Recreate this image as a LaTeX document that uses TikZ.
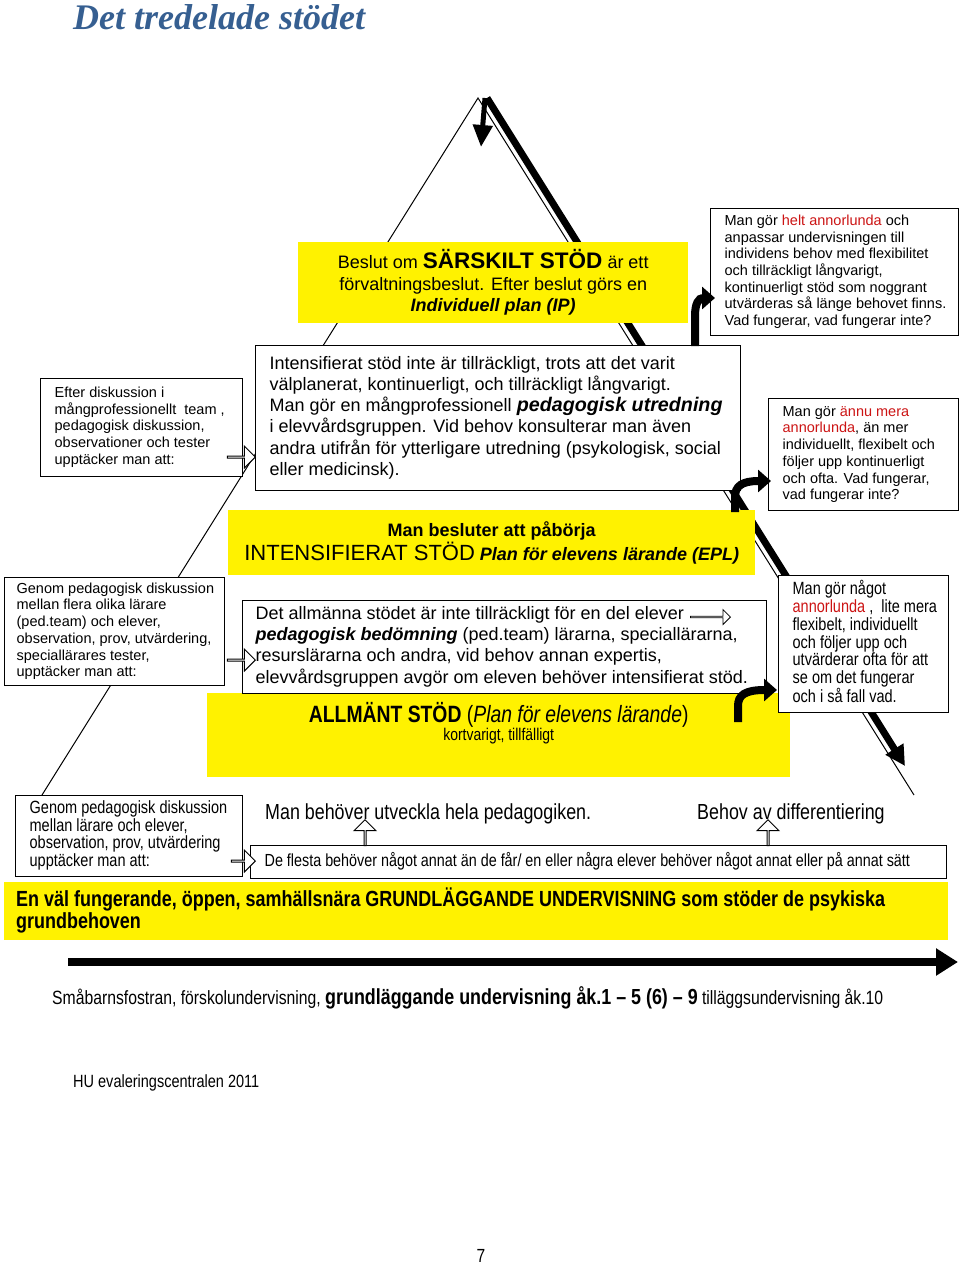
\documentclass[tikz,border=0pt]{standalone}
\usepackage{fontspec}
\setmainfont{Liberation Sans}
\newfontfamily\titlefont{Liberation Serif}
\newfontfamily\narrowfont[FakeStretch=0.82]{Liberation Sans}
\usetikzlibrary{positioning,shapes.arrows,arrows.meta}
\definecolor{titleblue}{RGB}{54,95,145}
\definecolor{annred}{RGB}{204,20,20}
\newcommand\rows[1]{{\spaceskip=0pt\xspaceskip=0pt\begin{tabular}{@{}l@{}}#1\end{tabular}}}

\begin{document}
\begin{tikzpicture}
  [x=1pt, y=-1pt,
   box/.style={draw, fill=white, line width=1.3pt, anchor=north west, align=left, inner xsep=14pt, inner ysep=0pt},
   ybox/.style={fill=yellow, anchor=north west, inner sep=0pt, align=center},
   note/.style={font=\fontsize{14.5}{16.7}\selectfont},
   big/.style={font=\fontsize{18}{21.2}\selectfont},
   slim/.style={font=\narrowfont\fontsize{17.7}{16.6}\selectfont},
   hollow/.style={single arrow, draw, fill=white, line width=1pt, inner sep=0pt, single arrow head extend=5pt, minimum width=22pt, minimum height=28pt},
   bent/.style={line width=8pt, -{Triangle[length=13pt,width=22pt]}}]

  \useasboundingbox (0,0) rectangle (960,1267);

  \node[anchor=base west, inner sep=0pt, text=titleblue, font=\titlefont\bfseries\itshape\fontsize{36}{36}\selectfont] (title) at (73,29) {Det tredelade stödet};

  \coordinate (apex) at (478,98);
  \coordinate (baseL) at (42,795);
  \coordinate (baseR) at (914,795);
  \coordinate (thicktop) at (487,98);
  \coordinate (thickend) at (905,766);
  \coordinate (downtop) at (485,98);
  \coordinate (downtip) at (481,147);

  \draw[line width=1pt] (baseL) -- (apex) -- (baseR);
  \draw[line width=7pt, -{Triangle[length=20pt,width=20pt]}] (thicktop) -- (thickend);
  \draw[line width=5pt, -{Triangle[length=22pt,width=19pt]}] (downtop) -- (downtip);

  \node[ybox, minimum width=390pt, minimum height=81pt, font=\fontsize{18}{21.5}\selectfont] (sarskilt) at (298,242)
    {Beslut om {\fontsize{22.5}{21.5}\selectfont\bfseries SÄRSKILT STÖD} är ett\\
     förvaltningsbeslut. Efter beslut görs en\\
     \textbf{\textit{Individuell plan (IP)}}};

  \node[box, note, text width=220pt, minimum height=127pt] (helt) at (710,208)
    {\rows{Man gör \textcolor{annred}{helt annorlunda} och\\
     anpassar undervisningen till\\
     individens behov med flexibilitet\\
     och tillräckligt långvarigt,\\
     kontinuerligt stöd som noggrant\\
     utvärderas så länge behovet finns.\\
     Vad fungerar, vad fungerar inte?}};

  \node[box, note, text width=174pt, minimum height=98pt] (team) at (40,378)
    {\rows{Efter diskussion i\\
     mångprofessionellt\ \ team ,\\
     pedagogisk diskussion,\\
     observationer och tester\\
     upptäcker man att:}};

  \node[box, big, text width=457pt, minimum height=145pt] (intens) at (255,345)
    {\rows{Intensifierat stöd inte är tillräckligt, trots att det varit\\
     välplanerat, kontinuerligt, och tillräckligt långvarigt.\\
     Man gör en mångprofessionell {\fontsize{19.7}{21.2}\selectfont\bfseries\itshape pedagogisk utredning}\\
     i elevvårdsgruppen. Vid behov konsulterar man även\\
     andra utifrån för ytterligare utredning (psykologisk, social\\
     eller medicinsk).}};

  \node[box, note, text width=162pt, minimum height=112pt] (mera) at (768,398)
    {\rows{Man gör \textcolor{annred}{ännu mera}\\
     \textcolor{annred}{annorlunda}, än mer\\
     individuellt, flexibelt och\\
     följer upp kontinuerligt\\
     och ofta. Vad fungerar,\\
     vad fungerar inte?}};

  \node[ybox, minimum width=527pt, minimum height=65pt, font=\fontsize{18}{24}\selectfont] (epl) at (228,510)
    {\textbf{Man besluter att påbörja}\\
     {\fontsize{22}{24}\selectfont INTENSIFIERAT STÖD} \textbf{\textit{Plan för elevens lärande (EPL)}}};

  \node[box, note, text width=196pt, minimum height=108pt, inner xsep=12pt] (pedteam) at (4,577)
    {\rows{Genom pedagogisk diskussion\\
     mellan flera olika lärare\\
     (ped.team) och elever,\\
     observation, prov, utvärdering,\\
     speciallärares tester,\\
     upptäcker man att:}};

  \node[ybox, minimum width=583pt, minimum height=84pt] (allmant) at (207,693) {};
  \node[below=9pt of allmant.north, inner sep=0pt, align=center, font=\narrowfont\fontsize{17}{17}\selectfont] (allmanttxt)
    {{\fontsize{23.6}{17}\selectfont\textbf{ALLMÄNT STÖD} (\textit{Plan för elevens lärande})}\\
     kortvarigt, tillfälligt};

  \node[box, big, text width=498pt, minimum height=93pt, inner xsep=13pt] (bedom) at (242,600)
    {\rows{Det allmänna stödet är inte tillräckligt för en del elever\\
     \textbf{\textit{pedagogisk bedömning}} (ped.team) lärarna, speciallärarna,\\
     resurslärarna och andra, vid behov annan expertis,\\
     elevvårdsgruppen avgör om eleven behöver intensifierat stöd.}};

  \node[box, slim, text width=142pt, minimum height=137pt] (nagot) at (778,575)
    {\rows{Man gör något\\
     \textcolor{annred}{annorlunda} ,\ \ lite mera\\
     flexibelt, individuellt\\
     och följer upp och\\
     utvärderar ofta för att\\
     se om det fungerar\\
     och i så fall vad.}};

  \node[box, slim, text width=199pt, minimum height=81pt] (larare) at (15,795)
    {\rows{Genom pedagogisk diskussion\\
     mellan lärare och elever,\\
     observation, prov, utvärdering\\
     upptäcker man att:}};

  \node[anchor=base west, inner sep=0pt, font=\narrowfont\fontsize{21.8}{21.8}\selectfont] (utveckla) at (265,819) {Man behöver utveckla hela pedagogiken.};
  \node[anchor=base west, inner sep=0pt, font=\narrowfont\fontsize{21.8}{21.8}\selectfont] (behov) at (697,819) {Behov av differentiering};

  \node[box, text width=668pt, minimum height=33pt, font=\narrowfont\fontsize{17.5}{17.5}\selectfont] (flesta) at (250,845)
    {\rows{De flesta behöver något annat än de får/ en eller några elever behöver något annat eller på annat sätt}};

  \node[ybox, align=left, text width=920pt, inner xsep=12pt, minimum height=58pt, font=\narrowfont\bfseries\fontsize{21.9}{21}\selectfont] (grund) at (4,882)
    {\rows{En väl fungerande, öppen, samhällsnära GRUNDLÄGGANDE UNDERVISNING som stöder de psykiska\\
     grundbehoven}};

  \node[hollow, anchor=tip] (toIntens) at (256,457) {};
  \node[hollow, anchor=tip] (toBedom) at (256,660) {};
  \node[hollow, anchor=tip, minimum height=24pt] (toFlesta) at (256,861) {};
  \node[hollow, anchor=tip, minimum width=15pt, minimum height=40pt, single arrow head extend=4pt, line width=0.8pt] (elevarr) at (731,617) {};
  \node[hollow, anchor=tip, shape border rotate=90, minimum height=26pt] (upUtv) at (365,819) {};
  \node[hollow, anchor=tip, shape border rotate=90, minimum height=26pt] (upBehov) at (768,819) {};

  \coordinate (b1s) at (695,346);
  \coordinate (b1e) at (715,298);
  \coordinate (b2s) at (735,512);
  \coordinate (b2e) at (771,481);
  \coordinate (b3s) at (738,722);
  \coordinate (b3e) at (777,690);
  \draw[bent] (b1s) -- (695,316) .. controls (695,303) and (699,298) .. (b1e);
  \draw[bent] (b2s) -- (735,497) .. controls (735,486) and (742,481) .. (b2e);
  \draw[bent] (b3s) -- (738,706) .. controls (738,695) and (745,690) .. (b3e);

  \coordinate (tlA) at (68,962);
  \coordinate (tlB) at (958,962);
  \draw[line width=8pt, -{Triangle[length=22pt,width=26pt]}] (tlA) -- (tlB);

  \node[anchor=base west, inner sep=0pt, font=\narrowfont\fontsize{19.2}{19}\selectfont] (stadier) at (52,1004)
    {Småbarnsfostran, förskolundervisning, {\fontsize{21.8}{19}\selectfont\bfseries grundläggande undervisning åk.1 – 5 (6) – 9} tilläggsundervisning åk.10};
  \node[anchor=base west, inner sep=0pt, font=\narrowfont\fontsize{17.7}{17.7}\selectfont] (hu) at (73,1087) {HU evaleringscentralen 2011};
  \node[anchor=base, inner sep=0pt, font=\narrowfont\fontsize{19}{19}\selectfont] (sida) at (481,1262) {7};
\end{tikzpicture}
\end{document}
